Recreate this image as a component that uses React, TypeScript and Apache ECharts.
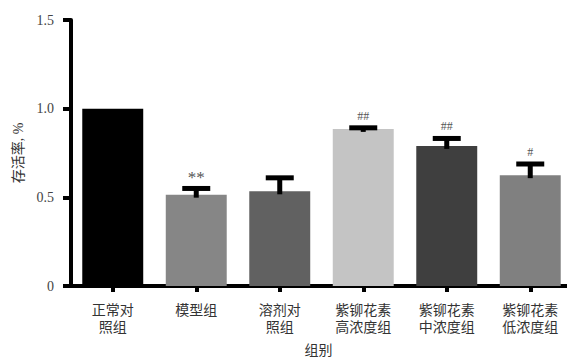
import React, { useEffect, useRef } from "react";
import * as echarts from "echarts";

// Group labels (two-line where the label wraps)
const categories = [
  "正常对\n照组",
  "模型组",
  "溶剂对\n照组",
  "紫铆花素\n高浓度组",
  "紫铆花素\n中浓度组",
  "紫铆花素\n低浓度组",
];
// Survival rate per group
const survival = [1.0, 0.515, 0.534, 0.886, 0.79, 0.625];
// Upper error (SD) per group
const errors = [0, 0.035, 0.076, 0.006, 0.042, 0.063];
// Significance markers above the error caps
const marks = ["", "**", "", "##", "##", "#"];
const barColors = ["#000000", "#868686", "#616161", "#c4c4c4", "#3f3f3f", "#808080"];
const yTicks = { min: 0, max: 1.5, interval: 0.5 };

const SERIF = "'Liberation Serif', 'DejaVu Serif', 'Noto Sans CJK SC', serif";

export default function App() {
  const ref = useRef<HTMLDivElement>(null);

  useEffect(() => {
    document.body.style.margin = "0";
    if (!ref.current) return;
    const chart = echarts.init(ref.current, null, { renderer: "svg" });

    chart.setOption({
      animation: false,
      backgroundColor: "#ffffff",
      grid: {
        left: 71,
        right: -5,
        top: 20,
        bottom: 71,
        containLabel: false,
        outerBoundsMode: "none",
      },
      xAxis: {
        type: "category",
        data: categories,
        name: "组别",
        nameLocation: "middle",
        nameGap: 57,
        nameTextStyle: {
          fontFamily: SERIF,
          fontSize: 14,
          color: "#333",
          padding: [0, 6, 0, 0],
        },
        axisLine: { lineStyle: { color: "#000", width: 4 } },
        axisTick: {
          show: true,
          alignWithLabel: true,
          length: 6,
          lineStyle: { color: "#000", width: 4 },
        },
        axisLabel: {
          interval: 0,
          margin: 16,
          fontFamily: SERIF,
          fontSize: 14,
          lineHeight: 17,
          color: "#333",
        },
      },
      yAxis: {
        type: "value",
        min: yTicks.min,
        max: yTicks.max,
        interval: yTicks.interval,
        name: "存活率, %",
        nameLocation: "middle",
        nameRotate: 90,
        nameGap: 45,
        nameTextStyle: { fontFamily: SERIF, fontSize: 14, color: "#333" },
        axisLine: { show: true, lineStyle: { color: "#000", width: 4 } },
        axisTick: { show: true, length: 8, lineStyle: { color: "#000", width: 4 } },
        splitLine: { show: false },
        axisLabel: {
          margin: 17,
          fontFamily: SERIF,
          fontSize: 14,
          color: "#444",
          formatter: (v: number) => (v === 0 ? "0" : v.toFixed(1)),
        },
      },
      series: [
        {
          type: "bar",
          barWidth: "73%",
          data: survival.map((v, i) => ({ value: v, itemStyle: { color: barColors[i] } })),
          z: 2,
        },
        {
          type: "custom",
          z: 3,
          data: survival.map((v, i) => [i, v, errors[i]]),
          renderItem: (params: any, api: any) => {
            const i = api.value(0);
            const v = api.value(1);
            const e = api.value(2);
            const base = api.coord([i, v]);
            const top = api.coord([i, v + e]);
            const children: any[] = [];
            if (e > 0) {
              children.push({
                type: "rect",
                shape: { x: top[0] - 2.5, y: top[1], width: 5, height: base[1] - top[1] + 3 },
                style: { fill: "#000" },
              });
              children.push({
                type: "rect",
                shape: { x: top[0] - 14, y: top[1] - 2.5, width: 28, height: 5 },
                style: { fill: "#000" },
              });
            }
            const mark = marks[params.dataIndex];
            if (mark) {
              const stars = mark === "**";
              children.push({
                type: "text",
                style: {
                  text: mark,
                  x: top[0],
                  y: top[1] - (stars ? 11 : 12),
                  align: "center",
                  verticalAlign: "middle",
                  fontFamily: SERIF,
                  fontSize: stars ? 17 : 12,
                  fill: "#555",
                },
              });
            }
            return { type: "group", children };
          },
        },
      ],
    });

    return () => chart.dispose();
  }, []);

  return <div ref={ref} style={{ width: 567, height: 357 }} />;
}
